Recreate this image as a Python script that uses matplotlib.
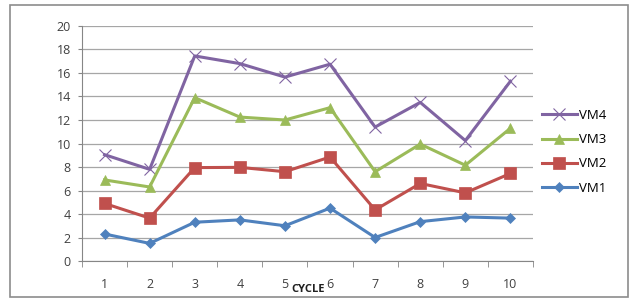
import matplotlib
matplotlib.use("Agg")
import matplotlib.pyplot as plt
from matplotlib.patches import Rectangle

plt.rcParams['font.family'] = ['Open Sans', 'DejaVu Sans']

cycles = [1, 2, 3, 4, 5, 6, 7, 8, 9, 10]
vm1 = [2.3, 1.5, 3.3, 3.5, 3.0, 4.5, 2.0, 3.35, 3.75, 3.65]
vm2 = [4.9, 3.65, 7.95, 7.97, 7.6, 8.85, 4.35, 6.6, 5.8, 7.45]
vm3 = [6.9, 6.3, 13.9, 12.25, 12.0, 13.05, 7.6, 9.95, 8.15, 11.3]
vm4 = [9.05, 7.8, 17.45, 16.8, 15.65, 16.75, 11.4, 13.5, 10.25, 15.3]

series = [
    ("VM4", vm4, "#8064A2", "x", 8),
    ("VM3", vm3, "#9BBB59", "^", 7.5),
    ("VM2", vm2, "#C0504D", "s", 8),
    ("VM1", vm1, "#4F81BD", "D", 5),
]

fig = plt.figure(figsize=(6.37, 3.04), dpi=100)
ax = fig.add_axes([0.1287, 0.1414, 0.7080, 0.7731])

# outer chart border
fig.patches.append(Rectangle((10 / 637, 7 / 304), 618 / 637, 292 / 304,
                             transform=fig.transFigure, fill=False,
                             edgecolor="#8c8c8c", linewidth=1.2))

x = range(len(cycles))
for name, vals, col, mk, ms in series:
    ax.plot(x, vals, color=col, linewidth=2.2, marker=mk, markersize=ms,
            markeredgewidth=0.8 if mk == "x" else 0.5,
            markeredgecolor=col, label=name)

ax.set_xlim(-0.5, len(cycles) - 0.5)
ax.set_ylim(0, 20)
ax.set_yticks(range(0, 21, 2))
ax.set_xticks(x)
ax.set_xticklabels([str(c) for c in cycles])
ax.set_xticks([i - 0.5 for i in range(len(cycles) + 1)], minor=True)
ax.tick_params(axis="x", which="major", length=0, pad=12, labelsize=9, colors="#404040")
ax.tick_params(axis="x", which="minor", length=4, color="#868686")
ax.tick_params(axis="y", length=3, color="#868686", labelsize=9, colors="#404040", pad=5)

ax.grid(axis="y", color="#a6a6a6", linewidth=0.9)
ax.set_axisbelow(True)
for s in ["top", "right"]:
    ax.spines[s].set_visible(False)
ax.spines["left"].set_color("#868686")
ax.spines["bottom"].set_color("#868686")

fig.text(308 / 637, 1 - 290 / 304, "CYCLE", fontsize=8, fontweight="bold",
         ha="center", va="center", color="#202020")

ax.legend(loc="center left", bbox_to_anchor=(1.0, 0.465), frameon=False,
          fontsize=9.5, handlelength=2.6, labelspacing=0.85, handletextpad=0.2,
          borderaxespad=0.3)

fig.savefig("out.png", dpi=100)
